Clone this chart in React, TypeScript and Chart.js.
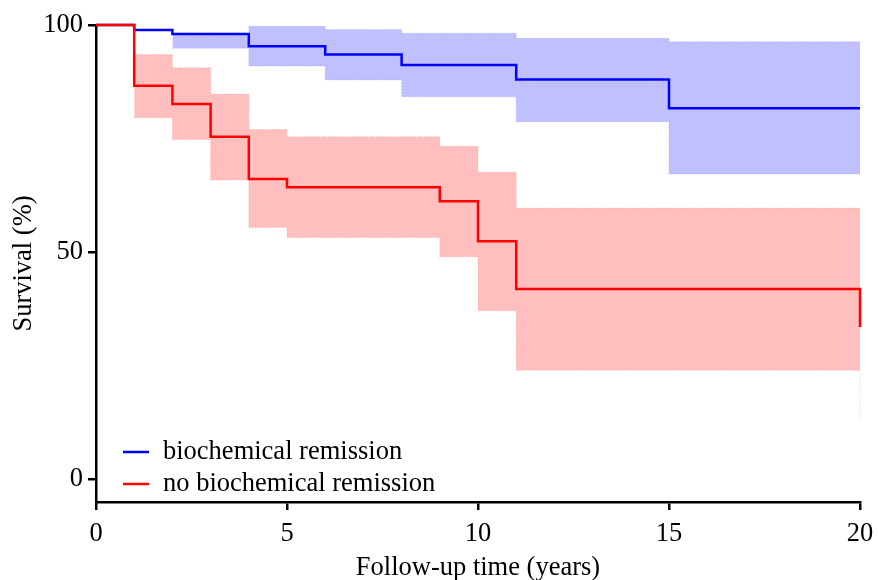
import React, { useEffect, useRef } from 'react';
import { Chart, registerables } from 'chart.js';

Chart.register(...registerables);

const seriesNames = ['biochemical remission', 'no biochemical remission'];
const xTickValues = [0, 5, 10, 15, 20];
const yTickValues = [0, 50, 100];

// biochemical remission (blue)
const remTimes = [0, 1, 2, 4, 6, 8, 11, 15, 20];
const remSurv = [100, 98.9, 98.0, 95.3, 93.5, 91.2, 88.0, 81.7, 81.7];
const remCITimes = [2, 4, 6, 8, 11, 15, 20];
const remUpper = [98.2, 99.7, 99.0, 98.2, 97.1, 96.3, 96.3];
const remLower = [94.9, 91.0, 87.9, 84.2, 78.7, 67.2, 67.2];

// no biochemical remission (red)
const noRemTimes = [0, 1, 2, 3, 4, 5, 9, 10, 11, 20, 20];
const noRemSurv = [100, 86.6, 82.6, 75.4, 66.1, 64.3, 61.2, 52.4, 41.9, 41.9, 33.5];
const noRemCITimes = [1, 2, 3, 4, 5, 9, 10, 11, 20];
const noRemUpper = [93.5, 90.6, 84.8, 77.0, 75.4, 73.3, 67.6, 59.7, 59.7];
const noRemLower = [79.6, 74.8, 65.9, 55.4, 53.2, 49.0, 37.1, 24.0, 24.0];
const noRemTailTimes = [20, 20];
const noRemTail = [24.0, 13.0];

const FONT = '"Liberation Serif", "Times New Roman", serif';

const pts = (xs: number[], ys: number[]) => xs.map((x, i) => ({ x, y: ys[i] }));

const legendPlugin = {
  id: 'kmLegend',
  afterDraw(chart: any) {
    const ctx = chart.ctx;
    const a = chart.chartArea;
    const items = [
      { label: seriesNames[0], color: '#0000ff' },
      { label: seriesNames[1], color: '#ff0000' },
    ];
    ctx.save();
    ctx.font = `26.5px ${FONT}`;
    ctx.textBaseline = 'middle';
    ctx.textAlign = 'left';
    items.forEach((it, i) => {
      const y = a.bottom - 50 + i * 32;
      ctx.strokeStyle = it.color;
      ctx.lineWidth = 2.5;
      ctx.beginPath();
      ctx.moveTo(a.left + 27, y);
      ctx.lineTo(a.left + 53, y);
      ctx.stroke();
      ctx.fillStyle = '#000';
      ctx.fillText(it.label, a.left + 67, y);
    });
    ctx.restore();
  },
};

export default function App() {
  const ref = useRef<HTMLCanvasElement | null>(null);

  useEffect(() => {
    if (!ref.current) return;
    const bandBorderRed = 'rgba(255,120,120,0.45)';
    const bandBorderBlue = 'rgba(120,120,255,0.45)';
    const chart = new Chart(ref.current, {
      type: 'line',
      data: {
        datasets: [
          {
            label: seriesNames[1],
            data: pts(noRemTimes, noRemSurv),
            borderColor: '#ff0000',
            borderWidth: 2.5,
            stepped: true,
            pointRadius: 0,
            fill: false,
            clip: false,
            order: 0,
          },
          {
            label: seriesNames[0],
            data: pts(remTimes, remSurv),
            borderColor: '#0000ff',
            borderWidth: 2.5,
            stepped: true,
            pointRadius: 0,
            fill: false,
            clip: false,
            order: 1,
          },
          {
            label: 'no rem upper',
            data: pts(noRemCITimes, noRemUpper),
            borderColor: bandBorderRed,
            borderWidth: 1,
            borderDash: [1, 2],
            stepped: true,
            pointRadius: 0,
            fill: false,
            order: 3,
          },
          {
            label: 'no rem lower',
            data: pts(noRemCITimes, noRemLower),
            borderColor: bandBorderRed,
            borderWidth: 1,
            borderDash: [1, 2],
            backgroundColor: '#ffbfbf',
            stepped: true,
            pointRadius: 0,
            fill: '-1',
            order: 3,
          },
          {
            label: 'rem upper',
            data: pts(remCITimes, remUpper),
            borderColor: bandBorderBlue,
            borderWidth: 1,
            borderDash: [1, 2],
            stepped: true,
            pointRadius: 0,
            fill: false,
            order: 3,
          },
          {
            label: 'rem lower',
            data: pts(remCITimes, remLower),
            borderColor: bandBorderBlue,
            borderWidth: 1,
            borderDash: [1, 2],
            backgroundColor: '#c0c0ff',
            stepped: true,
            pointRadius: 0,
            fill: '-1',
            order: 3,
          },
          {
            label: 'no rem tail',
            data: pts(noRemTailTimes, noRemTail),
            borderColor: bandBorderRed,
            borderWidth: 1,
            borderDash: [1, 2],
            pointRadius: 0,
            fill: false,
            clip: false,
            order: 4,
          },
        ],
      },
      options: {
        responsive: false,
        animation: false,
        layout: { padding: { left: 0, right: 18, top: 25, bottom: 0 } },
        plugins: {
          legend: { display: false },
          tooltip: { enabled: false },
        },
        scales: {
          x: {
            type: 'linear',
            min: 0,
            max: 20,
            afterBuildTicks: (s: any) => {
              s.ticks = xTickValues.map((v) => ({ value: v }));
            },
            afterFit: (s: any) => {
              s.height = 78;
              s.paddingLeft = 0;
              s.paddingRight = 0;
            },
            grid: {
              drawOnChartArea: false,
              drawTicks: true,
              tickLength: 8,
              color: '#000',
              lineWidth: 2.5,
            },
            border: { display: true, color: '#000', width: 2.5 },
            ticks: {
              color: '#000',
              padding: 8,
              maxRotation: 0,
              font: { family: FONT, size: 26.5 },
            },
            title: {
              display: true,
              text: 'Follow-up time (years)',
              color: '#000',
              font: { family: FONT, size: 26.5 },
              padding: { top: 0, bottom: -4 },
            },
          },
          y: {
            type: 'linear',
            min: -5,
            max: 100,
            afterBuildTicks: (s: any) => {
              s.ticks = yTickValues.map((v) => ({ value: v }));
            },
            afterFit: (s: any) => {
              s.width = 96;
              s.paddingTop = 0;
              s.paddingBottom = 0;
            },
            grid: {
              drawOnChartArea: false,
              drawTicks: true,
              tickLength: 8,
              color: '#000',
              lineWidth: 2.5,
            },
            border: { display: true, color: '#000', width: 2.5 },
            ticks: {
              color: '#000',
              padding: 5,
              font: { family: FONT, size: 26.5 },
            },
            title: {
              display: true,
              text: 'Survival (%)',
              color: '#000',
              font: { family: FONT, size: 26.5 },
              padding: { top: 8, bottom: 0 },
            },
          },
        },
      },
      plugins: [legendPlugin],
    } as any);
    return () => chart.destroy();
  }, []);

  return (
    <div style={{ position: 'fixed', left: 0, top: 0, width: 878, height: 580, background: '#fff' }}>
      <canvas ref={ref} width={878} height={580} style={{ display: 'block' }} />
    </div>
  );
}
